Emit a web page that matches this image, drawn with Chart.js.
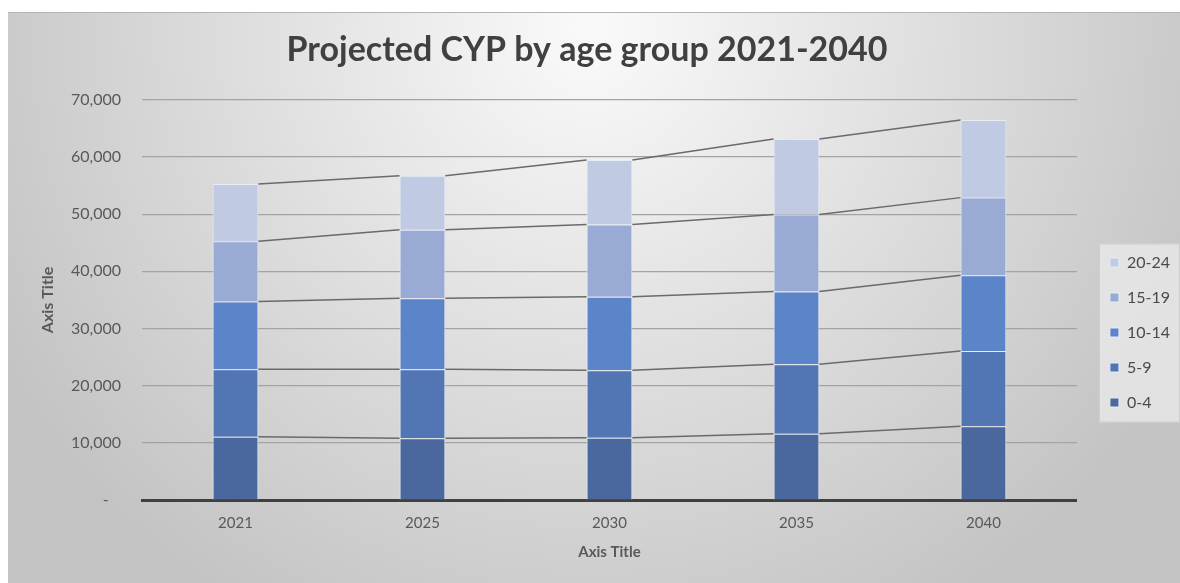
<!DOCTYPE html>
<html>
<head>
<meta charset="utf-8">
<script src="https://cdn.jsdelivr.net/npm/chart.js@4"></script>
<style>
  html, body { margin: 0; padding: 0; background: #fff; }
  #wrap { width: 1180px; height: 583px; }
</style>
</head>
<body>
<div id="wrap"><canvas id="chart" width="1180" height="583"></canvas></div>
<script>
// values
const years = ['2021', '2025', '2030', '2035', '2040'];
const ageGroups = ['0-4', '5-9', '10-14', '15-19', '20-24'];
const age0to4 = [11050, 10820, 10880, 11570, 12920];
const age5to9 = [11800, 12040, 11810, 12170, 13140];
const age10to14 = [11870, 12450, 12860, 12740, 13270];
const age15to19 = [10530, 11940, 12620, 13440, 13560];
const age20to24 = [10020, 9480, 11290, 13210, 13560];
const yTicks = [0, 10000, 20000, 30000, 40000, 50000, 60000, 70000];

const seriesValues = [age0to4, age5to9, age10to14, age15to19, age20to24];
const barColors = ['#4a679e', '#5275b4', '#5b84c9', '#99aad5', '#c0cae3'];

Chart.defaults.font.family = 'Lato';

// gradient background of the chart frame + light panel behind the legend
const backdrop = {
  id: 'backdrop',
  beforeDraw(chart) {
    const ctx = chart.ctx;
    ctx.save();
    const g = ctx.createRadialGradient(590, 30, 0, 590, 30, 680);
    g.addColorStop(0, '#fafafa');
    g.addColorStop(1, '#c3c3c3');
    ctx.fillStyle = g;
    ctx.fillRect(8, 12, chart.width - 8, chart.height - 12);
    ctx.strokeStyle = '#b4b4b4';
    ctx.lineWidth = 1;
    ctx.beginPath();
    ctx.moveTo(8, 12.5);
    ctx.lineTo(chart.width, 12.5);
    ctx.stroke();

    const boxes = chart.legend.legendHitBoxes;
    if (boxes && boxes.length) {
      const l = Math.min(...boxes.map(b => b.left)) - 11;
      const t = Math.min(...boxes.map(b => b.top)) - 11;
      const r = Math.max(...boxes.map(b => b.left + b.width)) + 10;
      const b = Math.max(...boxes.map(b => b.top + b.height)) + 12;
      ctx.fillStyle = 'rgba(235,235,235,0.75)';
      ctx.fillRect(l, t, r - l, b - t);
      ctx.strokeStyle = 'rgba(200,200,200,0.8)';
      ctx.strokeRect(l + 0.5, t + 0.5, r - l - 1, b - t - 1);
    }
    ctx.restore();
  }
};

// move the legend a bit right and down, like the original
const legendShift = {
  id: 'legendShift',
  afterLayout(chart) {
    const lg = chart.legend;
    lg.left += 14; lg.right += 14;
    lg.top += 35; lg.bottom += 35;
  }
};

// Excel-style series lines joining the segment tops of neighbouring bars
const seriesLines = {
  id: 'seriesLines',
  afterDatasetsDraw(chart) {
    const ctx = chart.ctx;
    ctx.save();
    ctx.strokeStyle = '#6a6a6a';
    ctx.lineWidth = 1.5;
    chart.data.datasets.forEach((ds, i) => {
      const meta = chart.getDatasetMeta(i);
      for (let j = 0; j < meta.data.length - 1; j++) {
        const a = meta.data[j], b = meta.data[j + 1];
        ctx.beginPath();
        ctx.moveTo(a.x + a.width / 2, a.y);
        ctx.lineTo(b.x - b.width / 2, b.y);
        ctx.stroke();
      }
    });
    ctx.restore();
  }
};

new Chart(document.getElementById('chart'), {
  type: 'bar',
  data: {
    labels: years,
    datasets: ageGroups.map((g, i) => ({
      label: g,
      data: seriesValues[i],
      backgroundColor: barColors[i],
      borderColor: '#e6ecf6',
      borderWidth: 1,
      barPercentage: 0.49,
      categoryPercentage: 0.5
    }))
  },
  options: {
    responsive: false,
    animation: false,
    layout: { padding: { left: 8, top: 12, right: 14, bottom: 0 } },
    plugins: {
      title: {
        display: true,
        text: 'Projected CYP by age group 2021-2040',
        color: '#404040',
        font: { size: 34, weight: 'bold' },
        padding: { top: 18, bottom: 29 }
      },
      legend: {
        position: 'right',
        reverse: true,
        labels: {
          boxWidth: 9,
          boxHeight: 9,
          padding: 19,
          color: '#4a4a4a',
          font: { size: 16 }
        }
      },
      tooltip: { enabled: false }
    },
    scales: {
      x: {
        stacked: true,
        grid: { display: false, drawTicks: false },
        border: { display: true, color: '#404040', width: 3 },
        ticks: { color: '#595959', font: { size: 15 }, padding: 14 },
        title: {
          display: true,
          text: 'Axis Title',
          color: '#595959',
          font: { size: 15, weight: 'bold' },
          padding: { top: 0, bottom: 22 }
        },
        afterFit(s) { s.height = 83; }
      },
      y: {
        stacked: true,
        min: yTicks[0],
        max: yTicks[yTicks.length - 1],
        afterBuildTicks(s) { s.ticks = yTicks.map(v => ({ value: v })); },
        grid: { color: '#a3a3a3', lineWidth: 1.2, drawTicks: false },
        border: { display: false },
        ticks: {
          color: '#595959',
          font: { size: 16 },
          padding: 21,
          callback: v => v === 0 ? '-   ' : v.toLocaleString('en-US')
        },
        title: {
          display: true,
          text: 'Axis Title',
          color: '#595959',
          font: { size: 16, weight: 'bold' },
          padding: { top: 30, bottom: 0 }
        },
        afterFit(s) { s.width = 134; }
      }
    }
  },
  plugins: [backdrop, legendShift, seriesLines]
});
</script>
</body>
</html>
